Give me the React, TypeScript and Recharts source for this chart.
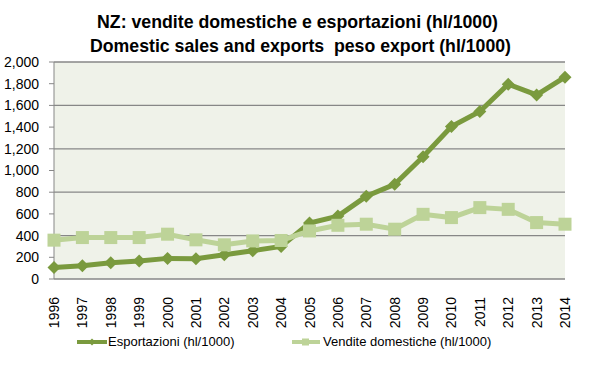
import { LineChart, Line, XAxis, YAxis, CartesianGrid, Legend } from 'recharts';

const years = [
  '1996', '1997', '1998', '1999', '2000', '2001', '2002', '2003', '2004', '2005',
  '2006', '2007', '2008', '2009', '2010', '2011', '2012', '2013', '2014',
];
const esportazioni = [
  107, 122, 150, 165, 190, 187, 223, 260, 300, 515, 580, 762, 873, 1126, 1406, 1544, 1795, 1697, 1860,
];
const vendite = [
  358, 382, 382, 382, 413, 361, 315, 351, 355, 443, 495, 505, 459, 596, 566, 658, 642, 520, 505,
];
const yTicks = [0, 200, 400, 600, 800, 1000, 1200, 1400, 1600, 1800, 2000];
const boundaryTicks = Array.from({ length: years.length + 1 }, (_, i) => i - 0.5);

const titleLine1 = 'NZ: vendite domestiche e esportazioni (hl/1000)';
const titleLine2 = 'Domestic sales and exports  peso export (hl/1000)';
const legendEsp = 'Esportazioni (hl/1000)';
const legendVen = 'Vendite domestiche (hl/1000)';

const data = years.map((year, i) => ({
  year,
  idx: i,
  esp: esportazioni[i],
  ven: vendite[i],
}));

const DARK = '#7A9A3E';
const LIGHT = '#BDD398';
const GRID = '#878787';
const FONT = '"Liberation Sans", Arial, sans-serif';

const Diamond = (props: any) => {
  const { cx, cy } = props;
  if (cx == null || cy == null) return null;
  const r = 6.5;
  return (
    <polygon
      points={`${cx},${cy - r} ${cx + r},${cy} ${cx},${cy + r} ${cx - r},${cy}`}
      fill={DARK}
    />
  );
};

const Square = (props: any) => {
  const { cx, cy } = props;
  if (cx == null || cy == null) return null;
  const r = 6.5;
  return <rect x={cx - r} y={cy - r} width={r * 2} height={r * 2} fill={LIGHT} />;
};

const YearTick = (props: any) => {
  const { x, y, payload } = props;
  return (
    <text
      x={x}
      y={y + 10}
      transform={`rotate(-90 ${x} ${y + 10})`}
      textAnchor="end"
      dominantBaseline="central"
      fontSize={14}
      fontFamily={FONT}
      fill="#000"
    >
      {payload.value}
    </text>
  );
};

const LegendContent = () => (
  <div style={{ position: 'relative', height: 20, fontFamily: FONT, fontSize: 13, lineHeight: '20px' }}>
    <svg width={32} height={12} style={{ position: 'absolute', left: 76, top: 4 }}>
      <line x1={1} y1={6} x2={31} y2={6} stroke={DARK} strokeWidth={4} />
      <polygon points="16,2.5 19.5,6 16,9.5 12.5,6" fill={DARK} />
    </svg>
    <span style={{ position: 'absolute', left: 108, top: 0 }}>{legendEsp}</span>
    <svg width={30} height={12} style={{ position: 'absolute', left: 291, top: 4 }}>
      <line x1={1} y1={6} x2={29} y2={6} stroke={LIGHT} strokeWidth={4} />
      <rect x={11} y={2.5} width={7} height={7} fill={LIGHT} />
    </svg>
    <span style={{ position: 'absolute', left: 323, top: 0 }}>{legendVen}</span>
  </div>
);

const App = () => {
  return (
    <div style={{ position: 'absolute', left: 0, top: 0, width: 596, height: 365, background: '#fff' }}>
      <LineChart
        width={596}
        height={365}
        data={data}
        margin={{ top: 62, right: 31, bottom: 0, left: 0 }}
      >
        <CartesianGrid
          vertical={false}
          stroke={GRID}
          strokeWidth={1.3}
          fill="#EFF2E9"
          fillOpacity={1}
        />
        <XAxis
          dataKey="year"
          xAxisId="cat"
          interval={0}
          tick={<YearTick />}
          tickLine={false}
          axisLine={false}
          height={66}
        />
        <XAxis
          xAxisId="b"
          dataKey="idx"
          type="number"
          domain={[-0.5, years.length - 0.5]}
          ticks={boundaryTicks}
          tick={false}
          tickSize={5}
          tickLine={{ stroke: GRID }}
          axisLine={{ stroke: GRID }}
          height={0}
        />
        <YAxis
          domain={[0, 2000]}
          ticks={yTicks}
          width={54}
          tickSize={5}
          tickMargin={10}
          tickLine={{ stroke: GRID }}
          axisLine={{ stroke: GRID }}
          tick={{ fill: '#000', fontSize: 14, fontFamily: FONT }}
          tickFormatter={(v: number) => v.toLocaleString('en-US')}
        />
        <Legend
          content={<LegendContent />}
          wrapperStyle={{ left: 0, top: 332, width: 596, bottom: 'auto' }}
        />
        <Line
          xAxisId="cat"
          dataKey="esp"
          name={legendEsp}
          stroke={DARK}
          strokeWidth={5}
          dot={<Diamond />}
          activeDot={false}
          isAnimationActive={false}
        />
        <Line
          xAxisId="cat"
          dataKey="ven"
          name={legendVen}
          stroke={LIGHT}
          strokeWidth={5}
          dot={<Square />}
          activeDot={false}
          isAnimationActive={false}
        />
      </LineChart>
      <svg
        width={596}
        height={60}
        style={{ position: 'absolute', left: 0, top: 0, pointerEvents: 'none' }}
      >
        <text
          x={97}
          y={28}
          textLength={401}
          lengthAdjust="spacingAndGlyphs"
          fontFamily={FONT}
          fontWeight="bold"
          fontSize={19}
          fill="#000"
        >
          {titleLine1}
        </text>
        <text
          x={90}
          y={52}
          textLength={421}
          lengthAdjust="spacingAndGlyphs"
          fontFamily={FONT}
          fontWeight="bold"
          fontSize={19}
          fill="#000"
          style={{ whiteSpace: 'pre' }}
        >
          {titleLine2}
        </text>
      </svg>
    </div>
  );
};

export default App;
